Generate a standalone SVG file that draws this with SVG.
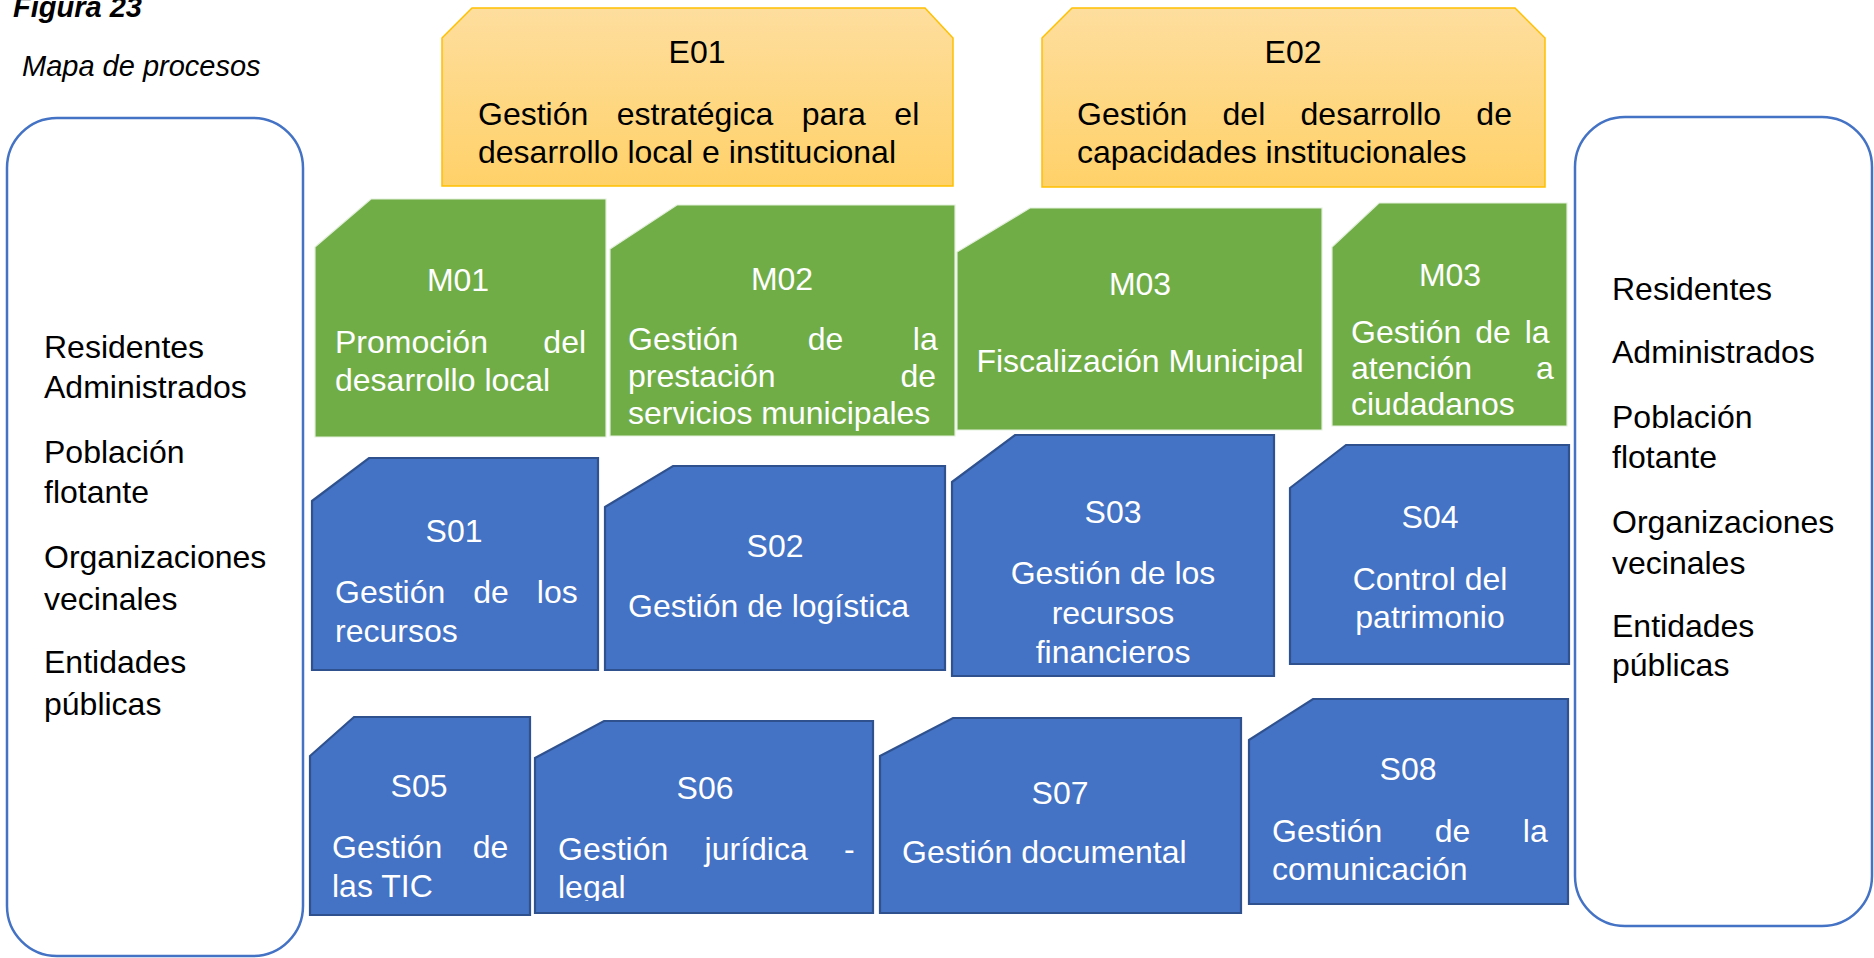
<svg xmlns="http://www.w3.org/2000/svg" width="1874" height="958" viewBox="0 0 1874 958">
<defs>
<linearGradient id="gold" x1="0" y1="0" x2="0" y2="1">
<stop offset="0" stop-color="#FEDE9E"/>
<stop offset="1" stop-color="#FFD169"/>
</linearGradient>
<clipPath id="clipS06"><rect x="535" y="721" width="338" height="180"/></clipPath>
</defs>
<style>
text{font-family:"Liberation Sans",Arial,sans-serif;font-size:32px}
.title{font-size:29px;font-style:italic}
.stake{fill:#ffffff;stroke:#4472C4;stroke-width:2.5}
.strat{fill:url(#gold);stroke:#FFC000;stroke-width:1.5}
.mis{fill:#70AD47;stroke:#E2EFDA;stroke-width:1.2}
.sup{fill:#4472C4;stroke:#2F528F;stroke-width:2.2}
.dk{fill:#000000}
.wt{fill:#ffffff}
.c{text-anchor:middle}
</style>
<g id="titles">
<text class="title" x="13" y="17" font-weight="bold">Figura 23</text>
<text class="title" x="22" y="76">Mapa de procesos</text>
</g>
<g id="connectors"></g>
<g id="stakeholders-left">
<rect class="stake" x="7" y="118" width="296" height="838" rx="50" ry="50"/>
<text class="dk" x="44" y="358">Residentes</text>
<text class="dk" x="44" y="398">Administrados</text>
<text class="dk" x="44" y="463">Población</text>
<text class="dk" x="44" y="503">flotante</text>
<text class="dk" x="44" y="568">Organizaciones</text>
<text class="dk" x="44" y="610">vecinales</text>
<text class="dk" x="44" y="673">Entidades</text>
<text class="dk" x="44" y="715">públicas</text>
</g>
<g id="stakeholders-right">
<rect class="stake" x="1575" y="117" width="297" height="809" rx="50" ry="50"/>
<text class="dk" x="1612" y="300">Residentes</text>
<text class="dk" x="1612" y="363">Administrados</text>
<text class="dk" x="1612" y="428">Población</text>
<text class="dk" x="1612" y="468">flotante</text>
<text class="dk" x="1612" y="533">Organizaciones</text>
<text class="dk" x="1612" y="574">vecinales</text>
<text class="dk" x="1612" y="637">Entidades</text>
<text class="dk" x="1612" y="676">públicas</text>
</g>
<g id="E01">
<polygon class="strat" points="442,38 472,8 925,8 953,38 953,186 442,186"/>
<text class="dk c" x="697" y="63">E01</text>
<text class="dk" x="478" y="125" word-spacing="19.6">Gestión estratégica para el</text>
<text class="dk" x="478" y="163">desarrollo local e institucional</text>
</g>
<g id="E02">
<polygon class="strat" points="1042,38 1072,8 1515,8 1545,38 1545,187 1042,187"/>
<text class="dk c" x="1293" y="63">E02</text>
<text class="dk" x="1077" y="125" word-spacing="26.4">Gestión del desarrollo de</text>
<text class="dk" x="1077" y="163">capacidades institucionales</text>
</g>
<g id="M01">
<polygon class="mis" points="315,247 371,199 606,199 606,437 315,437"/>
<text class="wt c" x="458" y="291">M01</text>
<text class="wt" x="335" y="353" word-spacing="46.5">Promoción del</text>
<text class="wt" x="335" y="391">desarrollo local</text>
</g>
<g id="M02">
<polygon class="mis" points="610,249 677,205 955,205 955,436 610,436"/>
<text class="wt c" x="782" y="290">M02</text>
<text class="wt" x="628" y="350" word-spacing="60.6">Gestión de la</text>
<text class="wt" x="628" y="387" word-spacing="115.9">prestación de</text>
<text class="wt" x="628" y="424">servicios municipales</text>
</g>
<g id="M03">
<polygon class="mis" points="957,252 1030,208 1322,208 1322,430 957,430"/>
<text class="wt c" x="1140" y="295">M03</text>
<text class="wt c" x="1140" y="372">Fiscalización Municipal</text>
</g>
<g id="M03b">
<polygon class="mis" points="1332,247 1379,203 1567,203 1567,426 1332,426"/>
<text class="wt c" x="1450" y="286" font-size="29">M03</text>
<text class="wt" x="1351" y="343" font-size="29" word-spacing="5">Gestión de la</text>
<text class="wt" x="1351" y="379" font-size="29" word-spacing="55">atención a</text>
<text class="wt" x="1351" y="415" font-size="29">ciudadanos</text>
</g>
<g id="S01">
<polygon class="sup" points="312,501 369,458 598,458 598,670 312,670"/>
<text class="wt c" x="454" y="542">S01</text>
<text class="wt" x="335" y="603" word-spacing="19.1">Gestión de los</text>
<text class="wt" x="335" y="642">recursos</text>
</g>
<g id="S02">
<polygon class="sup" points="605,507 673,466 945,466 945,670 605,670"/>
<text class="wt c" x="775" y="557">S02</text>
<text class="wt" x="628" y="617">Gestión de logística</text>
</g>
<g id="S03">
<polygon class="sup" points="952,482 1015,435 1274,435 1274,676 952,676"/>
<text class="wt c" x="1113" y="523">S03</text>
<text class="wt c" x="1113" y="584">Gestión de los</text>
<text class="wt c" x="1113" y="624">recursos</text>
<text class="wt c" x="1113" y="663">financieros</text>
</g>
<g id="S04">
<polygon class="sup" points="1290,488 1346,445 1569,445 1569,664 1290,664"/>
<text class="wt c" x="1430" y="528">S04</text>
<text class="wt c" x="1430" y="590">Control del</text>
<text class="wt c" x="1430" y="628">patrimonio</text>
</g>
<g id="S05">
<polygon class="sup" points="310,756 354,717 530,717 530,915 310,915"/>
<text class="wt c" x="419" y="797">S05</text>
<text class="wt" x="332" y="858" word-spacing="21.5">Gestión de</text>
<text class="wt" x="332" y="897">las TIC</text>
</g>
<g id="S06">
<polygon class="sup" points="535,758 604,721 873,721 873,913 535,913"/>
<text class="wt c" x="705" y="799">S06</text>
<text class="wt" x="558" y="860" word-spacing="27.4">Gestión jurídica -</text>
<text class="wt" x="558" y="898" clip-path="url(#clipS06)">legal</text>
</g>
<g id="S07">
<polygon class="sup" points="880,756 953,718 1241,718 1241,913 880,913"/>
<text class="wt c" x="1060" y="804">S07</text>
<text class="wt" x="902" y="863">Gestión documental</text>
</g>
<g id="S08">
<polygon class="sup" points="1249,740 1313,699 1568,699 1568,904 1249,904"/>
<text class="wt c" x="1408" y="780">S08</text>
<text class="wt" x="1272" y="842" word-spacing="43.6">Gestión de la</text>
<text class="wt" x="1272" y="880">comunicación</text>
</g>
</svg>
